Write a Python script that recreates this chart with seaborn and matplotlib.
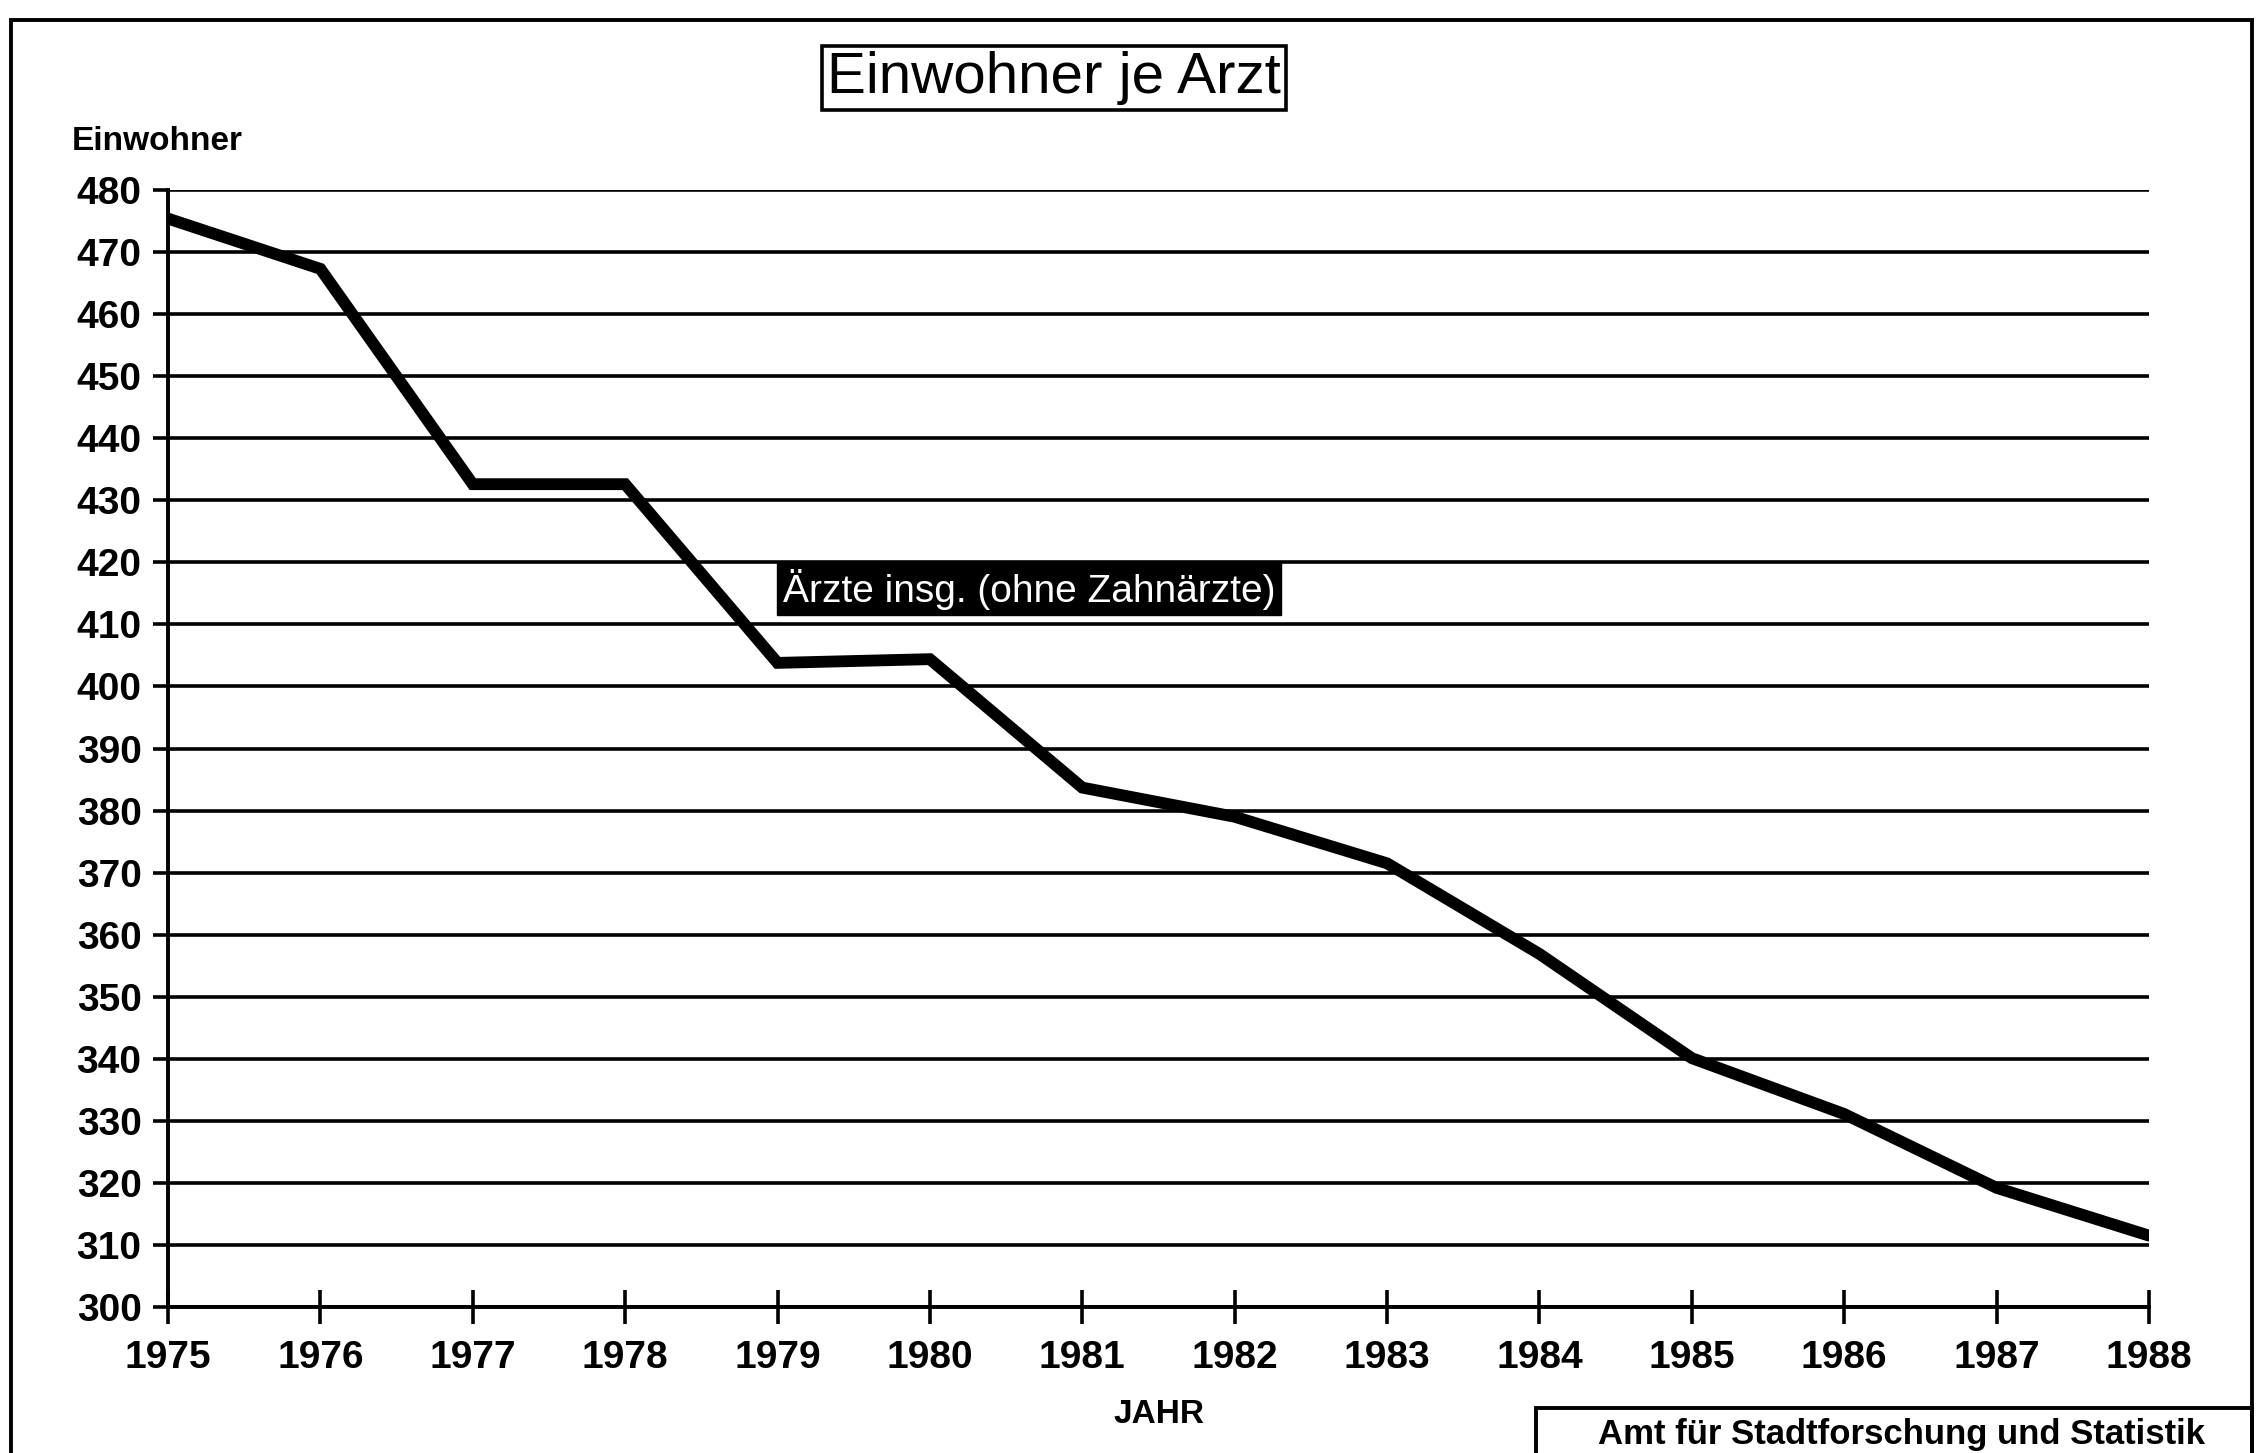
import matplotlib
matplotlib.use("Agg")
import matplotlib.pyplot as plt
import seaborn as sns
import pandas as pd
from matplotlib.patches import Rectangle

# Einwohner je Arzt (Aerzte insg., ohne Zahnaerzte)
jahre = [1975, 1976, 1977, 1978, 1979, 1980, 1981, 1982, 1983, 1984, 1985, 1986, 1987, 1988]
einwohner_je_arzt = [475.4, 467.3, 432.6, 432.6, 403.8, 404.4, 383.7, 379.0, 371.5, 356.9, 340.1, 331.1, 319.2, 311.5]
y_ticks = [300, 310, 320, 330, 340, 350, 360, 370, 380, 390, 400, 410, 420, 430, 440, 450, 460, 470, 480]

titel = "Einwohner je Arzt"
serie = "Ärzte insg. (ohne Zahnärzte)"
quelle = "Amt für Stadtforschung und Statistik"

df = pd.DataFrame({"JAHR": jahre, "Einwohner": einwohner_je_arzt})

sns.set_style("white")
plt.rcParams['font.family'] = ['Liberation Sans', 'DejaVu Sans']
plt.rcParams['text.color'] = 'black'
plt.rcParams['axes.labelcolor'] = 'black'

fig = plt.figure(figsize=(22.58, 14.53), dpi=100)
ax = fig.add_axes([0.0744, 0.1005, 0.8773, 0.7687])

sns.lineplot(data=df, x="JAHR", y="Einwohner", ax=ax, color='black', linewidth=8.5,
             solid_joinstyle='miter')

ax.set_xlim(1975, 1988)
ax.set_ylim(300, 480)
ax.set_xticks(jahre)
ax.set_yticks(y_ticks)
ax.yaxis.grid(True, color='black', linewidth=2.6)
ax.xaxis.grid(False)
ax.set_axisbelow(True)
ax.set_xlabel("")
ax.set_ylabel("")

for s in ['top', 'right']:
    ax.spines[s].set_visible(False)
for s in ['left', 'bottom']:
    ax.spines[s].set_color('black')
    ax.spines[s].set_linewidth(2.8)

ax.tick_params(axis='y', left=True, direction='out', length=11, width=2.6, pad=8,
               labelsize=28, colors='black')
ax.tick_params(axis='x', bottom=True, direction='inout', length=24, width=2.6, pad=12,
               labelsize=28, colors='black')
for lab in ax.get_xticklabels() + ax.get_yticklabels():
    lab.set_fontweight('bold')

# legend label, white on black
ax.text(1980.65, 415.7, serie, color='white', fontsize=28, ha='center', va='center',
        bbox=dict(boxstyle='square,pad=0.15', facecolor='black', edgecolor='black'))

# title in box
fig.text(0.4668, 0.9463, titel, fontsize=42, ha='center', va='center', color='black',
         bbox=dict(boxstyle='square,pad=0.08', facecolor='white', edgecolor='black', linewidth=2.6))

fig.text(0.0319, 0.9023, "Einwohner", fontsize=24, fontweight='bold', ha='left', va='center', color='black')
fig.text(0.5133, 0.0268, "JAHR", fontsize=24, fontweight='bold', ha='center', va='center', color='black')

# outer frame and source box
fig.add_artist(Rectangle((0.0049, -0.05), 0.9924, 1.0362, transform=fig.transFigure,
                         fill=False, edgecolor='black', linewidth=2.8))
fig.add_artist(Rectangle((0.6803, -0.05), 0.3170, 0.081, transform=fig.transFigure,
                         fill=False, edgecolor='black', linewidth=2.8))
fig.text(0.8419, 0.0125, quelle, fontsize=25, fontweight='bold', ha='center', va='center', color='black')

fig.savefig("out.png", dpi=100, facecolor='white')
